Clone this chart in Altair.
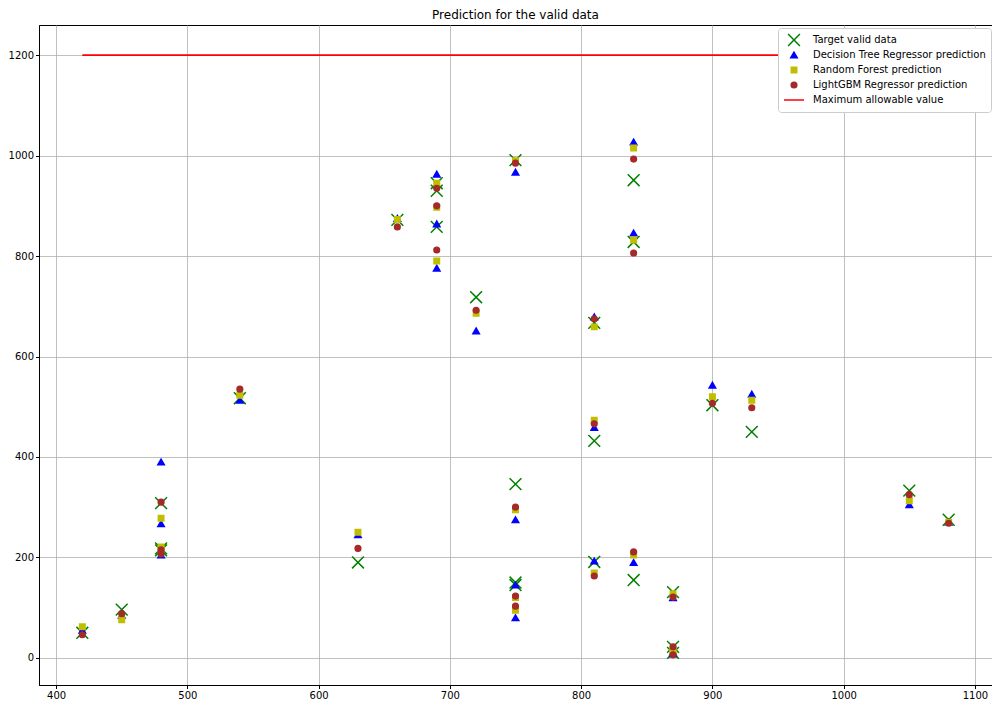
import altair as alt
import pandas as pd

# ---- data ----
x_vals = [420, 450, 480, 480, 480, 540, 630, 660, 690, 690, 690, 720, 750, 750, 750, 750,
          810, 810, 810, 840, 840, 840, 870, 870, 870, 900, 930, 1050, 1080]
target = [50, 96, 308, 218, 214, 517, 190, 872, 945, 930, 858, 718, 991, 346, 150, 145,
          667, 432, 191, 951, 828, 155, 131, 22, 10, 503, 450, 333, 275]
dt_pred = [55, 85, 390, 267, 205, 513, 245, 875, 963, 864, 776, 651, 967, 275, 145, 80,
           679, 459, 193, 1027, 846, 190, 120, 12, 8, 543, 525, 305, 270]
rf_pred = [62, 76, 278, 221, 216, 523, 250, 873, 945, 897, 790, 686, 990, 295, 120, 95,
           659, 473, 169, 1015, 832, 205, 127, 16, 12, 520, 513, 313, 270]
lgbm_pred = [46, 88, 310, 215, 207, 535, 218, 858, 935, 900, 812, 692, 985, 300, 123, 103,
             675, 466, 163, 993, 806, 211, 121, 22, 6, 507, 498, 325, 268]
max_value = 1200
line_x = [420, 1080]

labels = ["Target valid data", "Decision Tree Regressor prediction",
          "Random Forest prediction", "LightGBM Regressor prediction",
          "Maximum allowable value"]
colors = ["#008000", "#0000ff", "#bfbf00", "#a52a2a", "#ff0000"]
shapes = ["M-1,-1L1,1M-1,1L1,-1", "triangle-up", "square", "circle", "stroke"]
sizes = [140, 42, 30, 32, 400]

FONT = "DejaVu Sans"

frames = []
for lab, vals in zip(labels[:4], [target, dt_pred, rf_pred, lgbm_pred]):
    frames.append(pd.DataFrame({"x": x_vals, "y": vals, "series": lab}))
points_df = pd.concat(frames, ignore_index=True)
line_df = pd.DataFrame({"x": [line_x[0]], "x2": [line_x[1]], "y": [max_value]})

x_scale = alt.Scale(domain=[387, 1113], nice=False, zero=False)
y_scale = alt.Scale(domain=[-54, 1260], nice=False, zero=False)

legend = alt.Legend(orient="none", legendX=739, legendY=3, title=None,
                    fillColor="white", strokeColor="#cccccc", cornerRadius=3,
                    padding=5, labelFontSize=10, labelFont=FONT, labelColor="black",
                    labelLimit=0, symbolStrokeWidth=1.5, rowPadding=1, labelOffset=8,
                    clipHeight=14, symbolOpacity=1)

x_axis = alt.Axis(values=list(range(400, 1101, 100)), title=None, grid=True, format="d",
                  gridColor="#b0b0b0", gridWidth=0.8, labelFontSize=10, labelFont=FONT,
                  labelColor="black", tickColor="black", domainColor="black",
                  tickSize=3.5, labelPadding=2, labelFlush=False)
y_axis = alt.Axis(values=list(range(0, 1201, 200)), title=None, grid=True, format="d",
                  gridColor="#b0b0b0", gridWidth=0.8, labelFontSize=10, labelFont=FONT,
                  labelColor="black", tickColor="black", domainColor="black",
                  tickSize=3.5, labelPadding=2)

line = alt.Chart(line_df).mark_rule(color="#ff0000", strokeWidth=1.6).encode(
    x=alt.X("x:Q", scale=x_scale, axis=x_axis),
    x2="x2:Q",
    y=alt.Y("y:Q", scale=y_scale, axis=y_axis),
)

pts = alt.Chart(points_df).mark_point(filled=True, strokeWidth=1.5, opacity=1).encode(
    x=alt.X("x:Q", scale=x_scale, axis=x_axis),
    y=alt.Y("y:Q", scale=y_scale, axis=y_axis),
    color=alt.Color("series:N", scale=alt.Scale(domain=labels, range=colors), legend=legend),
    stroke=alt.Stroke("series:N", scale=alt.Scale(domain=labels, range=colors), legend=legend),
    shape=alt.Shape("series:N", scale=alt.Scale(domain=labels, range=shapes), legend=legend),
    size=alt.Size("series:N", scale=alt.Scale(type="ordinal", domain=labels, range=sizes),
                  legend=legend),
)

chart = alt.layer(line, pts).properties(
    width=953, height=660,
    title=alt.TitleParams("Prediction for the valid data", fontSize=12, font=FONT,
                          fontWeight="normal", color="black", offset=3),
    autosize=alt.AutoSizeParams(type="none"),
    padding={"left": 31, "top": 17, "right": 0, "bottom": 16},
).configure_view(stroke="black", strokeWidth=1)

chart.save("out.html", embed_options={"renderer": "svg", "actions": False})
